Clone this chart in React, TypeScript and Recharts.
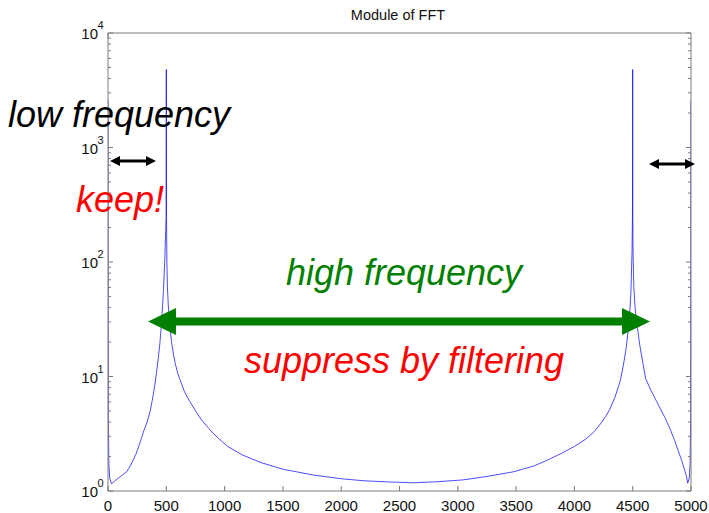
import { LineChart, Line, XAxis, YAxis } from "recharts";

// magnitude of the FFT (Hz -> |X|)
const freqs = [
  0, 2, 3, 8, 15, 30, 50, 77, 111, 160, 190, 217, 240, 260, 285, 309, 335, 360, 380, 400, 416,
  430, 445, 460, 475, 488, 498, 500, 502, 505, 510, 517, 530, 545, 560, 575, 600, 630, 655, 700,
  746, 800, 883, 950, 1029, 1150, 1312, 1500, 1758, 2000, 2187, 2400, 2616, 2800, 3045, 3250,
  3475, 3650, 3763, 3876, 4000, 4100, 4170, 4219, 4270, 4305, 4348, 4391, 4420, 4445, 4471,
  4485, 4494, 4498, 4499, 4500, 4501, 4503, 4510, 4520, 4534, 4560, 4585, 4611, 4650, 4690,
  4734, 4780, 4820, 4860, 4890, 4920, 4945, 4960, 4972, 4985, 4992, 4997, 4998, 5000,
];
const mags = [
  2600, 46, 4.2, 1.69, 1.3, 1.16, 1.2, 1.27, 1.35, 1.47, 1.65, 1.87, 2.1, 2.4, 2.85, 3.4, 4.0,
  4.9, 6.2, 8.2, 10.8, 14, 19.5, 30, 55, 110, 250, 4800, 250, 100, 60, 42, 28, 20, 16, 13.2,
  10.5, 8.7, 7.4, 6.1, 5.1, 4.2, 3.34, 2.86, 2.44, 2.07, 1.77, 1.55, 1.38, 1.28, 1.23, 1.2,
  1.18, 1.2, 1.25, 1.34, 1.47, 1.65, 1.85, 2.1, 2.45, 2.85, 3.3, 3.8, 4.5, 5.2, 6.6, 9.0, 12.5,
  18, 31, 55, 120, 250, 810, 4800, 250, 120, 60, 40, 30, 19, 13.5, 9.6, 7.8, 6.5, 5.3, 4.3,
  3.5, 2.75, 2.25, 1.85, 1.52, 1.36, 1.17, 1.3, 1.69, 4.2, 46, 2600,
];

const xTicks = [0, 500, 1000, 1500, 2000, 2500, 3000, 3500, 4000, 4500, 5000];
const decades = [1, 10, 100, 1000, 10000];
const yTicks = decades
  .slice(0, -1)
  .flatMap((d) => [1, 2, 3, 4, 5, 6, 7, 8, 9].map((m) => m * d))
  .concat([10000]);

const data = freqs.map((f, i) => ({ f, v: mags[i] }));

const AXIS = "#7a7a7a";
const FONT = "'Liberation Sans', Arial, Helvetica, sans-serif";

const isMajor = (v: number) => decades.includes(v);

const LeftTick = ({ x, y, payload }: any) => {
  const v = payload.value;
  const major = isMajor(v);
  return (
    <g>
      <line x1={x} x2={x + (major ? 5 : 3)} y1={y} y2={y} stroke={AXIS} />
      {major && (
        <>
          <text x={x - 10} y={y + 6} textAnchor="end" fontSize={15} fill="#111" fontFamily={FONT}>
            10
          </text>
          <text x={x - 10.5} y={y - 4} fontSize={11} fill="#111" fontFamily={FONT}>
            {Math.round(Math.log10(v))}
          </text>
        </>
      )}
    </g>
  );
};

const RightTick = ({ x, y, payload }: any) => (
  <line x1={x} x2={x - (isMajor(payload.value) ? 5 : 3)} y1={y} y2={y} stroke={AXIS} />
);

const BottomTick = ({ x, y, payload }: any) => (
  <g>
    <line x1={x} x2={x} y1={y} y2={y - 5} stroke={AXIS} />
    <text x={x} y={y + 20} textAnchor="middle" fontSize={15} fill="#111" fontFamily={FONT}>
      {payload.value}
    </text>
  </g>
);

const TopTick = ({ x, y }: any) => <line x1={x} x2={x} y1={y} y2={y + 5} stroke={AXIS} />;

const BLACK = "#000";
const GREEN = "#007f00";
const RED = "#ff0000";

export default function App() {
  return (
    <div style={{ position: "absolute", left: 0, top: 0, width: 709, height: 513, background: "#fff" }}>
      <LineChart width={709} height={513} data={data} margin={{ top: 32, right: 17, bottom: 0, left: 0 }}>
        <XAxis
          dataKey="f"
          type="number"
          domain={[0, 5000]}
          ticks={xTicks}
          interval={0}
          allowDataOverflow
          height={22}
          tickSize={0}
          tickMargin={0}
          tickLine={false}
          stroke={AXIS}
          tick={BottomTick}
        />
        <XAxis
          xAxisId="top"
          orientation="top"
          type="number"
          domain={[0, 5000]}
          ticks={xTicks}
          interval={0}
          allowDataOverflow
          height={1}
          tickSize={0}
          tickMargin={0}
          tickLine={false}
          stroke={AXIS}
          tick={TopTick}
        />
        <YAxis
          scale="log"
          type="number"
          domain={[1, 10000]}
          ticks={yTicks}
          interval={0}
          allowDataOverflow
          width={108}
          tickSize={0}
          tickMargin={0}
          tickLine={false}
          stroke={AXIS}
          tick={LeftTick}
        />
        <YAxis
          yAxisId="right"
          orientation="right"
          scale="log"
          type="number"
          domain={[1, 10000]}
          ticks={yTicks}
          interval={0}
          allowDataOverflow
          width={1}
          tickSize={0}
          tickMargin={0}
          tickLine={false}
          stroke={AXIS}
          tick={RightTick}
        />
        <Line
          dataKey="v"
          type="linear"
          stroke="#0000ff"
          strokeWidth={0.7}
          dot={false}
          isAnimationActive={false}
        />
      </LineChart>
      <svg
        width={709}
        height={513}
        style={{ position: "absolute", left: 0, top: 0, pointerEvents: "none" }}
        fontFamily={FONT}
      >
        <text x={398} y={20} textAnchor="middle" fontSize={14.5} fill="#111">
          Module of FFT
        </text>
        <text x={8} y={127} fontSize={36} fontStyle="italic" fill={BLACK}>
          low frequency
        </text>
        <text x={76} y={212} fontSize={36} fontStyle="italic" fill={RED}>
          keep!
        </text>
        <text x={404} y={285} textAnchor="middle" fontSize={36} fontStyle="italic" fill={GREEN}>
          high frequency
        </text>
        <text x={404} y={373} textAnchor="middle" fontSize={36} fontStyle="italic" fill={RED}>
          suppress by filtering
        </text>
        {/* black double arrows */}
        <line x1={118} x2={147} y1={161} y2={161} stroke={BLACK} strokeWidth={3} />
        <polygon points="110,161 120,156 120,166" fill={BLACK} />
        <polygon points="156,161 146,156 146,166" fill={BLACK} />
        <line x1={657} x2={687} y1={164} y2={164} stroke={BLACK} strokeWidth={3} />
        <polygon points="649,164 659,159 659,169" fill={BLACK} />
        <polygon points="695,164 685,159 685,169" fill={BLACK} />
        {/* green double arrow */}
        <line x1={174} x2={624} y1={321.5} y2={321.5} stroke={GREEN} strokeWidth={8} />
        <polygon points="148,321.5 176,308 176,335" fill={GREEN} />
        <polygon points="650,321.5 622,308 622,335" fill={GREEN} />
      </svg>
    </div>
  );
}
